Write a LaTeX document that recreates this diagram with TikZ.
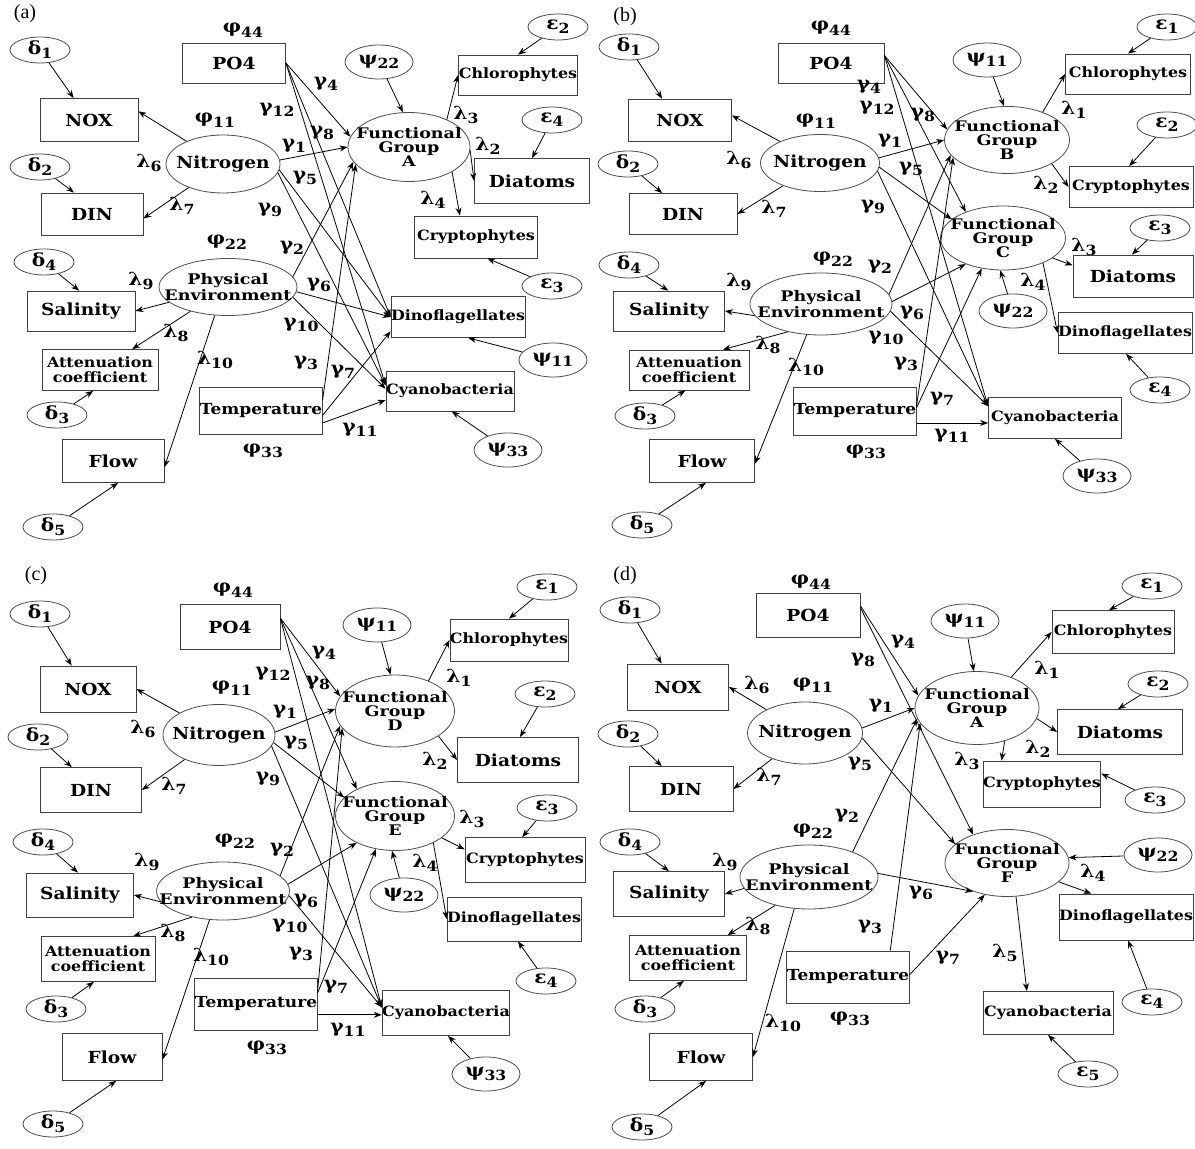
\documentclass[tikz,border=0pt]{standalone}
\usepackage{fontspec}
\setmainfont{DejaVu Serif}[FakeStretch=1.12]
\newfontfamily\latfam{DejaVu Serif}[FakeStretch=1.2]
\newfontfamily\capfont{Liberation Serif}
\usetikzlibrary{shapes.geometric,arrows.meta}
\newcommand{\bigfont}{\fontsize{8.3}{9}\selectfont\bfseries}
\newcommand{\midfont}{\fontsize{7.1}{7.6}\selectfont\bfseries}
\newcommand{\tempfont}{\fontsize{7.6}{8}\selectfont\bfseries}
\newcommand{\latfont}{\latfam\fontsize{7.3}{7}\selectfont\bfseries}
\newcommand{\symfont}{\fontsize{9}{10}\selectfont\bfseries}
\newcommand{\sy}[2]{#1\raisebox{-0.45ex}{\fontsize{7}{7}\selectfont #2}}
\tikzset{>={Stealth[length=4pt,width=3pt]},
  obsbox/.style={draw=black!75, rectangle, inner sep=0pt, align=center},
  bx/.style 2 args={obsbox, minimum width=#1*0.5pt, minimum height=#2*0.5pt},
  lat/.style={draw=black!70, ellipse, inner sep=0pt},
  el/.style 2 args={lat, minimum width=#1*0.5pt, minimum height=#2*0.5pt},
  lattext/.style={font=\latfont, align=center, inner sep=0pt},
  errell/.style={draw=black!70, ellipse, inner sep=0pt, minimum width=30pt, minimum height=13pt, font=\symfont},
  disell/.style={errell, minimum width=34pt, minimum height=17pt},
  coef/.style={font=\symfont, inner sep=0pt},
  tag/.style={font=\capfont\fontsize{10}{11}\selectfont, inner sep=0pt}
}
\begin{document}
\begin{tikzpicture}[x=0.5pt, y=-0.5pt]
\useasboundingbox[fill=white] (0,0) rectangle (1195,1149);
% (a)
\node[tag] (aTag) at (25,14) {(a)};
\node[errell] (aD1) at (40,50) {\sy{δ}{1}};
\node[bx={98}{43}, font=\bigfont] (aNOX) at (89,120) {NOX};
\node[errell] (aD2) at (40,167) {\sy{δ}{2}};
\node[bx={102}{42}, font=\bigfont] (aDIN) at (92,214) {DIN};
\node[bx={103}{40}, font=\bigfont] (aPO4) at (234,63) {PO4};
\node[coef] (aF44) at (243,30) {\sy{φ}{44}};
\node[el={114}{58}, label={[lattext,font=\bigfont]center:Nitrogen}] (aN) at (223,164) {};
\node[coef] (aF11) at (215,120) {\sy{φ}{11}};
\node[coef] (aL6) at (149,163) {\sy{λ}{6}};
\node[coef] (aL7) at (182,206) {\sy{λ}{7}};
\node[coef] (aG12) at (277,110) {\sy{γ}{12}};
\node[coef] (aG9) at (270,210) {\sy{γ}{9}};
\node[coef] (aG4) at (326,84) {\sy{γ}{4}};
\node[coef] (aG8) at (322,133) {\sy{γ}{8}};
\node[coef] (aG1) at (294,146) {\sy{γ}{1}};
\node[coef] (aG5) at (305,178) {\sy{γ}{5}};
\node[disell] (aP22) at (379,62) {\sy{ψ}{22}};
\node[el={122}{69}, label={[lattext]center:Functional\\Group\\A}] (aFG) at (409,147) {};
\node[errell] (aE2) at (558,27) {\sy{ε}{2}};
\node[bx={119}{40}, font=\midfont] (aChl) at (518,75) {Chlorophytes};
\node[coef] (aL3) at (466,115) {\sy{λ}{3}};
\node[coef] (aL2) at (488,146) {\sy{λ}{2}};
\node[errell] (aE4) at (552,120) {\sy{ε}{4}};
\node[bx={115}{45}, font=\bigfont] (aDia) at (532,181) {Diatoms};
\node[coef] (aL4) at (433,200) {\sy{λ}{4}};
\node[bx={123}{42}, font=\midfont] (aCry) at (476,237) {Cryptophytes};
\node[errell] (aE3) at (552,286) {\sy{ε}{3}};
\node[errell] (aD4) at (44,262) {\sy{δ}{4}};
\node[coef] (aF22) at (227,242) {\sy{φ}{22}};
\node[coef] (aG2) at (292,248) {\sy{γ}{2}};
\node[el={138}{57}, label={[lattext]center:Physical\\Environment}] (aPE) at (228,287) {};
\node[coef] (aL9) at (141,281) {\sy{λ}{9}};
\node[bx={108}{40}, font=\bigfont] (aSal) at (81,311) {Salinity};
\node[coef] (aG6) at (319,285) {\sy{γ}{6}};
\node[coef] (aG10) at (301,325) {\sy{γ}{10}};
\node[coef] (aG3) at (306,363) {\sy{γ}{3}};
\node[coef] (aG7) at (343,372) {\sy{γ}{7}};
\node[coef] (aG11) at (360,430) {\sy{γ}{11}};
\node[coef] (aL8) at (176,333) {\sy{λ}{8}};
\node[coef] (aL10) at (215,360) {\sy{λ}{10}};
\node[bx={116}{41}, font=\midfont] (aAtt) at (100,370) {Attenuation\\coefficient};
\node[bx={130}{41}, font=\midfont] (aDino) at (458,317) {Dinoflagellates};
\node[disell] (aP11) at (553,360) {\sy{ψ}{11}};
\node[bx={120}{47}, font=\tempfont] (aTemp) at (261,411) {Temperature};
\node[bx={128}{40}, font=\midfont] (aCya) at (450,391) {Cyanobacteria};
\node[errell] (aD3) at (57,415) {\sy{δ}{3}};
\node[coef] (aF33) at (263,451) {\sy{φ}{33}};
\node[disell] (aP33) at (508,450) {\sy{ψ}{33}};
\node[bx={102}{43}, font=\bigfont] (aFlow) at (113,461) {Flow};
\node[errell] (aD5) at (53,527) {\sy{δ}{5}};
\draw[->] (aD1) -- (aNOX.125);
\draw[->] (aD2) -- (aDIN.130);
\draw[->] (aN) -- (aNOX.10);
\draw[->] (aN) -- (aDIN.-5);
\draw[->] (aD4) -- (aSal.95);
\draw[->] (aPE) -- (aSal.east);
\draw[->] (aPE) -- (aAtt.33);
\draw[->] (aPE.245) -- (aFlow.-7);
\draw[->] (aD3) -- (aAtt.-108);
\draw[->] (aD5) -- (aFlow.-77);
\draw[->] (aP22) -- (aFG.100);
\draw[->] (aFG.36) -- (aChl.west);
\draw[->] (aFG.-3) -- (aDia.west);
\draw[->] (aFG.-30) -- (aCry.127);
\draw[->] (aE2) -- (aChl.north);
\draw[->] (aE4) -- (aDia.north);
\draw[->] (aE3) -- (aCry.-62);
\draw[->] (aP11) -- (aDino.-64);
\draw[->] (aP33) -- (aCya.-85);
\draw[->] (aPO4.east) -- (aFG.170);
\draw[->] (aPO4.east) -- (aDino.west);
\draw[->] (aPO4.east) -- (aCya.175);
\draw[->] (aN.4) -- (aFG.west);
\draw[->] (aN.-6) -- (aDino.west);
\draw[->] (aN.-9) -- (aCya.175);
\draw[->] (aPE.9) -- (aFG.195);
\draw[->] (aPE.-4) -- (aDino.west);
\draw[->] (aPE.-9) -- (aCya.178);
\draw[->] (aTemp.10) -- (aFG.198);
\draw[->] (aTemp.-4) -- (aDino.-168);
\draw[->] (aTemp.-11) -- (aCya.-172);
% (b)
\node[tag] (bTag) at (625,17) {(b)};
\node[errell] (bD1) at (629,47) {\sy{δ}{1}};
\node[bx={103}{42}, font=\bigfont] (bNOX) at (680,120) {NOX};
\node[errell] (bD2) at (628,164) {\sy{δ}{2}};
\node[bx={108}{41}, font=\bigfont] (bDIN) at (683,214) {DIN};
\node[bx={106}{40}, font=\bigfont] (bPO4) at (831,63) {PO4};
\node[coef] (bF44) at (831,28) {\sy{φ}{44}};
\node[el={119}{57}, label={[lattext,font=\bigfont]center:Nitrogen}] (bN) at (820,163) {};
\node[coef] (bF11) at (816,121) {\sy{φ}{11}};
\node[coef] (bL6) at (739,160) {\sy{λ}{6}};
\node[coef] (bL7) at (774,209) {\sy{λ}{7}};
\node[coef] (bG4) at (869,87) {\sy{γ}{4}};
\node[coef] (bG12) at (877,108) {\sy{γ}{12}};
\node[coef] (bG8) at (923,115) {\sy{γ}{8}};
\node[coef] (bG1) at (890,141) {\sy{γ}{1}};
\node[coef] (bG5) at (911,169) {\sy{γ}{5}};
\node[coef] (bG9) at (873,207) {\sy{γ}{9}};
\node[disell] (bP11) at (987,60) {\sy{ψ}{11}};
\node[el={125}{67}, label={[lattext]center:Functional\\Group\\B}] (bFB) at (1007,140) {};
\node[errell] (bE1) at (1167,27) {\sy{ε}{1}};
\node[bx={125}{40}, font=\midfont] (bChl) at (1128,74) {Chlorophytes};
\node[coef] (bL1) at (1074,110) {\sy{λ}{1}};
\node[errell] (bE2) at (1167,125) {\sy{ε}{2}};
\node[coef] (bL2) at (1046,185) {\sy{λ}{2}};
\node[bx={124}{41}, font=\midfont] (bCry) at (1131,187) {Cryptophytes};
\node[el={125}{64}, label={[lattext]center:Functional\\Group\\C}] (bFC) at (1003,238) {};
\node[errell] (bE3) at (1160,228) {\sy{ε}{3}};
\node[coef] (bL3) at (1084,247) {\sy{λ}{3}};
\node[bx={120}{42}, font=\bigfont] (bDia) at (1133,276) {Diatoms};
\node[coef] (bL4) at (1033,282) {\sy{λ}{4}};
\node[disell] (bP22) at (1013,311) {\sy{ψ}{22}};
\node[bx={134}{41}, font=\midfont] (bDino) at (1125,333) {Dinoflagellates};
\node[errell] (bE4) at (1160,390) {\sy{ε}{4}};
\node[errell] (bD4) at (629,265) {\sy{δ}{4}};
\node[coef] (bF22) at (833,259) {\sy{φ}{22}};
\node[coef] (bG2) at (880,267) {\sy{γ}{2}};
\node[coef] (bL9) at (739,282) {\sy{λ}{9}};
\node[el={142}{62}, label={[lattext]center:Physical\\Environment}] (bPE) at (821,304) {};
\node[bx={111}{40}, font=\bigfont] (bSal) at (669,311) {Salinity};
\node[coef] (bG6) at (912,313) {\sy{γ}{6}};
\node[coef] (bG10) at (886,338) {\sy{γ}{10}};
\node[coef] (bG3) at (906,364) {\sy{γ}{3}};
\node[coef] (bG7) at (942,399) {\sy{γ}{7}};
\node[coef] (bG11) at (952,436) {\sy{γ}{11}};
\node[coef] (bL8) at (768,345) {\sy{λ}{8}};
\node[coef] (bL10) at (806,367) {\sy{λ}{10}};
\node[bx={120}{40}, font=\midfont] (bAtt) at (689,370) {Attenuation\\coefficient};
\node[bx={122}{48}, font=\tempfont] (bTemp) at (855,411) {Temperature};
\node[bx={133}{41}, font=\midfont] (bCya) at (1055,418) {Cyanobacteria};
\node[errell] (bD3) at (645,416) {\sy{δ}{3}};
\node[coef] (bF33) at (866,452) {\sy{φ}{33}};
\node[disell] (bP33) at (1097,476) {\sy{ψ}{33}};
\node[bx={105}{43}, font=\bigfont] (bFlow) at (702,461) {Flow};
\node[errell] (bD5) at (642,525) {\sy{δ}{5}};
\draw[->] (bD1) -- (bNOX.130);
\draw[->] (bD2) -- (bDIN.135);
\draw[->] (bN) -- (bNOX.5);
\draw[->] (bN) -- (bDIN.east);
\draw[->] (bD4) -- (bSal.92);
\draw[->] (bPE.190) -- (bSal.east);
\draw[->] (bPE.220) -- (bAtt.31);
\draw[->] (bPE.245) -- (bFlow.-3);
\draw[->] (bD3) -- (bAtt.-100);
\draw[->] (bD5) -- (bFlow.-80);
\draw[->] (bP11) -- (bFB.95);
\draw[->] (bFB.38) -- (bChl.west);
\draw[->] (bFB.-28) -- (bCry.west);
\draw[->] (bE1) -- (bChl.north);
\draw[->] (bE2) -- (bCry.95);
\draw[->] (bFC.-22) -- (bDia.170);
\draw[->] (bFC.-32) -- (bDino.west);
\draw[->] (bP22) -- (bFC.-95);
\draw[->] (bE3) -- (bDia.93);
\draw[->] (bE4) -- (bDino.-87);
\draw[->] (bP33) -- (bCya.south);
\draw[->] (bPO4.8) -- (bFB.170);
\draw[->] (bPO4.8) -- (bFC.145);
\draw[->] (bPO4.8) -- (bCya.170);
\draw[->] (bN.5) -- (bFB.west);
\draw[->] (bN.-4) -- (bFC.160);
\draw[->] (bN.-8) -- (bCya.170);
\draw[->] (bPE.8) -- (bFB.195);
\draw[->] (bPE.2) -- (bFC.215);
\draw[->] (bPE.-6) -- (bCya.170);
\draw[->] (bTemp.5) -- (bFB.198);
\draw[->] (bTemp.3) -- (bFC.235);
\draw[->] (bTemp.-11) -- (bTemp.-11 -| bCya.west);
% (c)
\node[tag] (cTag) at (36,576) {(c)};
\node[errell] (cD1) at (40,614) {\sy{δ}{1}};
\node[bx={96}{46}, font=\bigfont] (cNOX) at (88,689) {NOX};
\node[errell] (cD2) at (38,737) {\sy{δ}{2}};
\node[bx={101}{45}, font=\bigfont] (cDIN) at (91,790) {DIN};
\node[bx={100}{45}, font=\bigfont] (cPO4) at (230,627) {PO4};
\node[coef] (cF44) at (233,590) {\sy{φ}{44}};
\node[el={112}{61}, label={[lattext,font=\bigfont]center:Nitrogen}] (cN) at (219,735) {};
\node[coef] (cF11) at (232,688) {\sy{φ}{11}};
\node[coef] (cL6) at (143,729) {\sy{λ}{6}};
\node[coef] (cL7) at (174,786) {\sy{λ}{7}};
\node[coef] (cG4) at (324,653) {\sy{γ}{4}};
\node[coef] (cG12) at (273,674) {\sy{γ}{12}};
\node[coef] (cG8) at (318,683) {\sy{γ}{8}};
\node[coef] (cG1) at (285,712) {\sy{γ}{1}};
\node[coef] (cG5) at (296,743) {\sy{γ}{5}};
\node[coef] (cG9) at (268,779) {\sy{γ}{9}};
\node[disell] (cP11) at (377,625) {\sy{ψ}{11}};
\node[el={119}{72}, label={[lattext]center:Functional\\Group\\D}] (cFD) at (395,711) {};
\node[errell] (cE1) at (547,587) {\sy{ε}{1}};
\node[bx={118}{42}, font=\midfont] (cChl) at (509,640) {Chlorophytes};
\node[coef] (cL1) at (459,678) {\sy{λ}{1}};
\node[errell] (cE2) at (545,694) {\sy{ε}{2}};
\node[coef] (cL2) at (435,761) {\sy{λ}{2}};
\node[bx={121}{45}, font=\bigfont] (cDia) at (518,760) {Diatoms};
\node[el={119}{69}, label={[lattext]center:Functional\\Group\\E}] (cFE) at (395,816) {};
\node[errell] (cE3) at (547,808) {\sy{ε}{3}};
\node[coef] (cL3) at (472,819) {\sy{λ}{3}};
\node[bx={120}{45}, font=\midfont] (cCry) at (525,860) {Cryptophytes};
\node[coef] (cL4) at (425,863) {\sy{λ}{4}};
\node[disell] (cP22) at (404,895) {\sy{ψ}{22}};
\node[bx={127}{44}, font=\midfont] (cDino) at (514,919) {Dinoflagellates};
\node[errell] (cE4) at (546,981) {\sy{ε}{4}};
\node[errell] (cD4) at (43,842) {\sy{δ}{4}};
\node[coef] (cF22) at (235,841) {\sy{φ}{22}};
\node[coef] (cG2) at (282,850) {\sy{γ}{2}};
\node[coef] (cL9) at (147,862) {\sy{λ}{9}};
\node[el={133}{58}, label={[lattext]center:Physical\\Environment}] (cPE) at (223,891) {};
\node[bx={107}{44}, font=\bigfont] (cSal) at (80,895) {Salinity};
\node[coef] (cG6) at (306,901) {\sy{γ}{6}};
\node[coef] (cG10) at (290,926) {\sy{γ}{10}};
\node[coef] (cG3) at (301,954) {\sy{γ}{3}};
\node[coef] (cG7) at (336,987) {\sy{γ}{7}};
\node[coef] (cG11) at (348,1030) {\sy{γ}{11}};
\node[coef] (cL8) at (173,933) {\sy{λ}{8}};
\node[coef] (cL10) at (211,957) {\sy{λ}{10}};
\node[bx={114}{45}, font=\midfont] (cAtt) at (98,959) {Attenuation\\coefficient};
\node[bx={117}{52}, font=\tempfont] (cTemp) at (256,1004) {Temperature};
\node[bx={126}{45}, font=\midfont] (cCya) at (446,1013) {Cyanobacteria};
\node[errell] (cD3) at (56,1009) {\sy{δ}{3}};
\node[coef] (cF33) at (267,1048) {\sy{φ}{33}};
\node[disell] (cP33) at (486,1074) {\sy{ψ}{33}};
\node[bx={100}{47}, font=\bigfont] (cFlow) at (112,1057) {Flow};
\node[errell] (cD5) at (53,1124) {\sy{δ}{5}};
\draw[->] (cD1) -- (cNOX.125);
\draw[->] (cD2) -- (cDIN.130);
\draw[->] (cN) -- (cNOX.east);
\draw[->] (cN) -- (cDIN.east);
\draw[->] (cD4) -- (cSal.95);
\draw[->] (cPE.190) -- (cSal.east);
\draw[->] (cPE.220) -- (cAtt.33);
\draw[->] (cPE.245) -- (cFlow.-3);
\draw[->] (cD3) -- (cAtt.-100);
\draw[->] (cD5) -- (cFlow.-80);
\draw[->] (cP11) -- (cFD.97);
\draw[->] (cFD.42) -- (cChl.west);
\draw[->] (cFD.-30) -- (cDia.west);
\draw[->] (cFE.-25) -- (cCry.170);
\draw[->] (cFE.-35) -- (cDino.west);
\draw[->] (cP22) -- (cFE.-95);
\draw[->] (cE1) -- (cChl.north);
\draw[->] (cE2) -- (cDia.85);
\draw[->] (cE3) -- (cCry.97);
\draw[->] (cE4) -- (cDino.-80);
\draw[->] (cP33) -- (cCya.-85);
\draw[->] (cPO4.10) -- (cFD.165);
\draw[->] (cPO4.10) -- (cFE.145);
\draw[->] (cPO4.10) -- (cCya.175);
\draw[->] (cN.3) -- (cFD.178);
\draw[->] (cN.-8) -- (cFE.160);
\draw[->] (cN.-12) -- (cCya.175);
\draw[->] (cPE.15) -- (cFD.195);
\draw[->] (cPE.6) -- (cFE.215);
\draw[->] (cPE.-4) -- (cCya.175);
\draw[->] (cTemp.12) -- (cFD.198);
\draw[->] (cTemp.10) -- (cFE.240);
\draw[->] (cTemp.-10) -- (cTemp.-10 -| cCya.west);
% (d)
\node[tag] (dTag) at (625,576) {(d)};
\node[errell] (dD1) at (630,610) {\sy{δ}{1}};
\node[bx={101}{46}, font=\bigfont] (dNOX) at (678,687) {NOX};
\node[errell] (dD2) at (628,734) {\sy{δ}{2}};
\node[bx={104}{45}, font=\bigfont] (dDIN) at (681,789) {DIN};
\node[bx={104}{44}, font=\bigfont] (dPO4) at (808,615) {PO4};
\node[coef] (dF44) at (811,582) {\sy{φ}{44}};
\node[el={115}{62}, label={[lattext,font=\bigfont]center:Nitrogen}] (dN) at (805,733) {};
\node[coef] (dF11) at (813,685) {\sy{φ}{11}};
\node[coef] (dL6) at (757,685) {\sy{λ}{6}};
\node[coef] (dL7) at (769,777) {\sy{λ}{7}};
\node[coef] (dG4) at (903,642) {\sy{γ}{4}};
\node[coef] (dG8) at (863,660) {\sy{γ}{8}};
\node[coef] (dG1) at (881,706) {\sy{γ}{1}};
\node[coef] (dG5) at (860,764) {\sy{γ}{5}};
\node[disell] (dP11) at (965,621) {\sy{ψ}{11}};
\node[el={124}{73}, label={[lattext]center:Functional\\Group\\A}] (dFA) at (977,708) {};
\node[errell] (dE1) at (1152,586) {\sy{ε}{1}};
\node[bx={122}{43}, font=\midfont] (dChl) at (1113,632) {Chlorophytes};
\node[coef] (dL1) at (1047,670) {\sy{λ}{1}};
\node[errell] (dE2) at (1158,684) {\sy{ε}{2}};
\node[bx={125}{45}, font=\bigfont] (dDia) at (1120,732) {Diatoms};
\node[coef] (dL2) at (1038,749) {\sy{λ}{2}};
\node[coef] (dL3) at (967,761) {\sy{λ}{3}};
\node[bx={117}{46}, font=\midfont] (dCry) at (1042,784) {Cryptophytes};
\node[errell] (dE3) at (1155,800) {\sy{ε}{3}};
\node[coef] (dG2) at (847,816) {\sy{γ}{2}};
\node[coef] (dF22) at (813,831) {\sy{φ}{22}};
\node[el={124}{67}, label={[lattext]center:Functional\\Group\\F}] (dFF) at (1007,863) {};
\node[disell] (dP22) at (1158,855) {\sy{ψ}{22}};
\node[coef] (dL4) at (1093,873) {\sy{λ}{4}};
\node[coef] (dG6) at (921,893) {\sy{γ}{6}};
\node[bx={131}{46}, font=\midfont] (dDino) at (1126,917) {Dinoflagellates};
\node[errell] (dD4) at (630,842) {\sy{δ}{4}};
\node[coef] (dL9) at (725,862) {\sy{λ}{9}};
\node[el={138}{64}, label={[lattext]center:Physical\\Environment}] (dPE) at (809,877) {};
\node[bx={111}{45}, font=\bigfont] (dSal) at (669,894) {Salinity};
\node[coef] (dL8) at (758,926) {\sy{λ}{8}};
\node[coef] (dG3) at (870,927) {\sy{γ}{3}};
\node[bx={117}{45}, font=\midfont] (dAtt) at (688,958) {Attenuation\\coefficient};
\node[coef] (dL5) at (1005,953) {\sy{λ}{5}};
\node[coef] (dG7) at (948,958) {\sy{γ}{7}};
\node[bx={120}{52}, font=\tempfont] (dTemp) at (848,977) {Temperature};
\node[errell] (dE4) at (1152,1002) {\sy{ε}{4}};
\node[errell] (dD3) at (645,1009) {\sy{δ}{3}};
\node[coef] (dL10) at (783,1023) {\sy{λ}{10}};
\node[coef] (dF33) at (850,1019) {\sy{φ}{33}};
\node[bx={130}{43}, font=\midfont] (dCya) at (1048,1013) {Cyanobacteria};
\node[bx={103}{47}, font=\bigfont] (dFlow) at (701,1057) {Flow};
\node[errell] (dE5) at (1088,1074) {\sy{ε}{5}};
\node[errell] (dD5) at (642,1127) {\sy{δ}{5}};
\draw[->] (dD1) -- (dNOX.125);
\draw[->] (dD2) -- (dDIN.130);
\draw[->] (dN) -- (dNOX.east);
\draw[->] (dN) -- (dDIN.east);
\draw[->] (dD4) -- (dSal.north);
\draw[->] (dPE.190) -- (dSal.east);
\draw[->] (dPE.220) -- (dAtt.30);
\draw[->] (dPE.245) -- (dFlow.east);
\draw[->] (dD3) -- (dAtt.-100);
\draw[->] (dD5) -- (dFlow.-78);
\draw[->] (dP11) -- (dFA.95);
\draw[->] (dFA.42) -- (dChl.west);
\draw[->] (dFA.-10) -- (dDia.west);
\draw[->] (dFA.-50) -- (dCry.150);
\draw[->] (dP22) -- (dFF.5);
\draw[->] (dFF.-20) -- (dDino.146);
\draw[->] (dFF.-75) -- (dCya.134);
\draw[->] (dE1) -- (dChl.100);
\draw[->] (dE2) -- (dDia.95);
\draw[->] (dE3) -- (dCry.10);
\draw[->] (dE4) -- (dDino.-85);
\draw[->] (dE5) -- (dCya.south);
\draw[->] (dPO4.10) -- (dFA.168);
\draw[->] (dPO4.8) -- (dFF.140);
\draw[->] (dN.5) -- (dFA.west);
\draw[->] (dN.-5) -- (dFF.160);
\draw[->] (dPE.30) -- (dFA.190);
\draw[->] (dPE.3) -- (dFF.220);
\draw[->] (dTemp.32) -- (dFA.195);
\draw[->] (dTemp.2) -- (dFF.235);
\end{tikzpicture}
\end{document}
